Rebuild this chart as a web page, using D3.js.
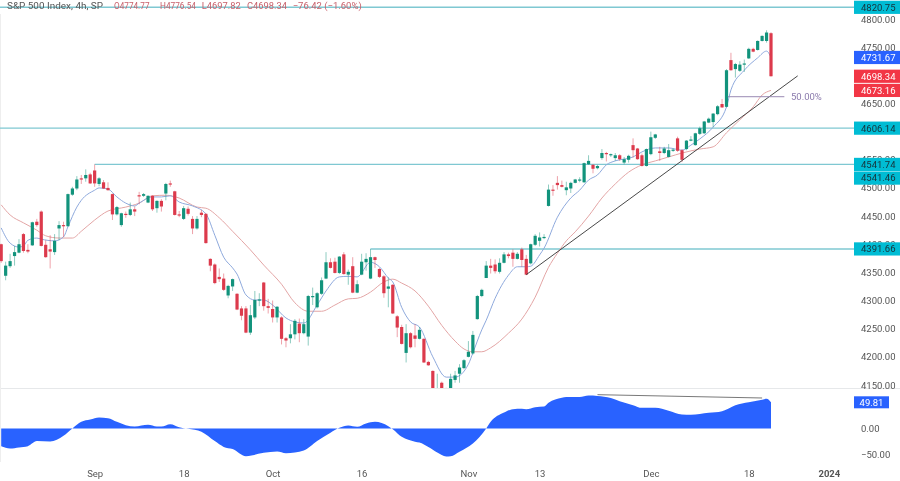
<!DOCTYPE html>
<html>
<head>
<meta charset="utf-8">
<style>
  html, body { margin: 0; padding: 0; background: #fff; }
  svg { display: block; font-family: Roboto, sans-serif; filter: blur(0.3px); }
  .domain { display: none; }
</style>
<script src="https://cdn.jsdelivr.net/npm/d3@7"></script>
</head>
<body>
<svg id="chart" width="900" height="481"></svg>
<script>
"use strict";

// bar by bar, 4h S&P 500
var opens = [
  4400,4344,4361,4379,4385,4418,4390,4398,4440,4458,
  4399,4391,4386,4428,4434,4432,4488,4499,4517,4517,
  4524,4531,4507,4510,4500,4489,4453,4434,4454,4452,
  4462,4487,4486,4474,4486,4464,4477,4490,4508,4494,
  4453,4445,4463,4445,4428,4456,4454,4374,4364,4342,
  4339,4309,4325,4312,4286,4286,4243,4270,4300,4332,
  4290,4285,4270,4270,4233,4233,4240,4259,4242,4236,
  4307,4288,4312,4339,4368,4369,4349,4382,4346,4361,
  4314,4346,4368,4339,4377,4356,4343,4321,4328,4272,
  4253,4207,4242,4238,4232,4232,4191,4175,4130,4154,
  4135,4130,4159,4170,4180,4200,4206,4267,4308,4340,
  4362,4364,4351,4367,4382,4385,4374,4391,4374,4366,
  4399,4406,4412,4468,4497,4509,4505,4496,4499,4509,
  4513,4510,4542,4541,4535,4553,4562,4558,4553,4558,
  4545,4550,4576,4570,4558,4539,4560,4589,4565,4562,
  4555,4566,4588,4567,4569,4584,4576,4596,4597,4616,
  4617,4631,4649,4644,4727,4711,4708,4720,4730,4747,
  4745,4761,4761,4774.77
];
var highs = [
  4401,4369,4383,4397,4409,4420,4400,4440,4445,4460,
  4407,4416,4418,4441,4440,4490,4502,4521,4523,4533,
  4527,4541.74,4519,4514,4510,4490,4468,4456,4458,4474,
  4467,4493,4491,4487,4487,4478,4480,4509,4513,4495,
  4459,4468,4467,4450,4450,4461,4455,4375,4366,4357,
  4348,4328,4339,4313,4290,4290,4292,4317,4313,4333,
  4303,4300,4290,4272,4235,4258,4267,4268,4267,4310,
  4323,4315,4341,4386,4375,4376,4379,4386,4355,4377,
  4336,4383,4384,4391.66,4378,4358,4345,4341,4329,4274,
  4257,4258,4244,4258,4253,4233,4193,4176,4170,4156,
  4145,4170,4175,4187,4196,4228,4246,4310,4321,4370,
  4374,4373,4375,4386,4385,4391,4386,4394,4381,4401,
  4418,4421,4418,4506,4505,4521,4513,4511,4511,4516,
  4519,4545,4558,4542,4541,4569,4564,4561,4562,4560,
  4555,4559,4588,4571,4561,4570,4600,4596,4573,4573,
  4578,4570,4591,4569,4585,4592,4598,4609,4619,4625,
  4633,4647,4658,4711,4740,4722,4725,4728,4749,4749,
  4762,4771,4780,4776.54
];
var lows = [
  4367,4336,4358,4362,4384,4385,4384,4397,4431,4396,
  4376,4357,4381,4407,4413,4431,4486,4496,4507,4511,
  4507,4502,4503,4498,4495,4443,4451,4431,4447,4450,
  4450,4471,4484,4473,4459,4456,4458,4478,4502,4451,
  4448,4443,4451,4418,4426,4448,4401,4352,4329,4333,
  4317,4304,4317,4283,4265,4242,4239,4267,4290,4282,
  4277,4261,4261,4222,4217,4224,4231,4226,4240,4220,
  4292,4286,4310,4338,4357,4348,4347,4346,4328,4313,
  4313,4345,4353,4338,4358,4340,4305,4288,4276,4235,
  4222,4190,4215,4217,4231,4189,4184,4130,4125,4130,
  4128,4127,4154,4154,4178,4199,4204,4266,4306,4340,
  4348,4348,4348,4366,4375,4360,4373,4360,4345,4364,
  4397,4396,4409,4467,4486,4497,4501,4487,4491,4508,
  4510,4509,4541,4526,4533,4550,4547,4555,4548,4548,
  4542,4545,4554,4550,4538,4538,4558,4587,4548,4560,
  4554,4564,4564,4546,4567,4583,4575,4594,4596,4615,
  4608,4629,4642,4643,4708,4696,4706,4706,4729,4741,
  4744,4760,4758,4697.82
];
var closes = [
  4370,4362,4370,4386,4400,4388,4387,4439,4434,4397,
  4377,4387,4406,4434,4432,4489,4499,4515,4515,4523,
  4508,4508,4517,4499,4496,4453,4466,4455,4452,4462,
  4458,4486,4489,4486,4462,4477,4467,4507,4507,4452,
  4452,4464,4454,4428,4445,4452,4402,4362,4331,4338,
  4319,4326,4338,4284,4273,4243,4274,4301,4302,4290,
  4287,4270,4289,4232,4229,4240,4264,4242,4258,4308,
  4308,4313,4336,4368,4358,4349,4378,4347,4351,4314,
  4329,4369,4374,4377,4372,4342,4313,4325,4277,4252,
  4223,4242,4217,4232,4248,4190,4185,4135,4140,4135,
  4140,4161,4167,4181,4194,4209,4239,4308,4319,4362,
  4358,4352,4367,4382,4379,4374,4383,4372,4346,4400,
  4415,4412,4413,4497,4495,4505,4502,4501,4509,4515,
  4515,4544,4548,4534,4539,4562,4560,4560,4558,4551,
  4551,4557,4567,4551,4539,4569,4590,4595,4562,4570,
  4567,4568,4566,4550,4584,4586,4597,4606,4618,4623,
  4632,4645,4643,4709,4709,4720,4719,4721,4747,4742,
  4761,4770,4776,4698.34
];

// moving averages, read at the bars where the line could be followed
var fastBars = [0,2,4,5,6,8,9,12,14,15,17,18,21,22,24,26,28,30,31,34,36,38,40,43,46,48,50,52,53,55,57,59,61,64,66,68,71,73,76,78,80,83,85,87,88,90,92,94,97,100,102,105,106,108,109,111,114,116,118,119,121,122,125,128,130,132,134,136,138,142,144,147,150,153,155,157,160,163,164,167,170,172,173];
var fastVals = [4429,4402,4395,4397,4407,4411,4409,4406,4413,4431,4466,4478,4496,4500,4498,4484,4473,4468,4473,4484,4484,4486,4475,4468,4454,4416,4377,4358,4347,4310,4301,4301,4292,4269,4262,4260,4292,4317,4342,4343,4342,4368,4360,4340,4333,4288,4262,4253,4200,4164,4164,4187,4207,4248,4265,4304,4345,4360,4360,4361,4381,4393,4448,4482,4496,4514,4523,4541,4548,4555,4564,4571,4571,4567,4576,4587,4608,4644,4674,4709,4731,4743,4731.67];
var slowBars = [0,2,5,8,10,13,16,18,21,24,28,31,34,37,40,44,46,49,52,56,59,63,66,69,72,75,78,80,83,86,88,90,93,96,99,102,104,106,108,110,114,117,120,123,125,127,129,132,135,138,141,144,147,150,153,157,160,163,166,169,171,173];
var slowVals = [4470,4452,4438,4425,4415,4411,4411,4423,4443,4459,4466,4473,4486,4487,4482,4466,4464,4447,4423,4390,4363,4329,4296,4281,4281,4292,4303,4304,4315,4333,4338,4331,4317,4290,4256,4228,4214,4209,4209,4216,4242,4267,4306,4359,4384,4406,4422,4450,4482,4507,4528,4541,4548,4555,4562,4569,4573,4598,4621,4644,4665,4673.16];

// lower pane oscillator
var oscBars = [0,2,4,6,8,11,14,16,18,20,22,24,26,28,30,33,35,36,38,40,42,45,48,50,52,55,59,62,64,68,71,74,76,78,80,82,84,87,88,90,93,94,96,98,100,101,103,106,109,110,113,115,117,118,120,122,123,126,127,130,132,134,137,139,142,144,147,150,153,155,159,162,165,168,171,172,173];
var oscVals = [-33.6,-38,-36,-33.6,-24,-24.7,-14,0,12.7,17,21,19.7,12.7,6.3,3.8,7,3.8,3.8,8.2,2.5,-0.6,-6.3,-24,-35,-39,-52.6,-46,-43.7,-47,-41.8,-24,-8,1.3,5.7,3.2,9.5,12.7,4.4,-1.3,-15.9,-25,-26.6,-35,-45.6,-53,-52.6,-44,-28.5,0,12.7,30.4,36.8,37.4,36.8,40.6,41.8,48.8,58.3,60,60,62.8,62,58,52,44.4,39.3,39.3,33.6,26.6,26,29.8,33,44.4,50,54.5,56.4,49.81];

var priceTicks = [4150,4200,4250,4300,4350,4400,4450,4500,4550,4650,4750,4800];
var oscTicks = [0,-50];
var dateBars = [21,41,61,81,105,121,146,168,186];
var dateLabels = ["Sep","18","Oct","16","Nov","13","Dec","18","2024"];

// price levels: value, first bar of the line (null = whole width), label
var levelVals = [4820.75,4606.14,4541.74,4391.66];
var levelFrom = [null,null,21,83];
var tagVals = [4820.75,4606.14,4541.74,4541.46,4391.66];
var tagOffset = [0,0,0,13.5,0];
var lastTags = [4731.67,4698.34,4673.16];
var lastTagColors = ["#2962ff","#f23645","#f23645"];

var trendBars = [118,179];
var trendVals = [4346,4699];
var fibBars = [163.3,176];
var fibVal = 4662;
var oscLineBars = [134,171];
var oscLineVals = [64.3,58];

var titleTexts = ["S&P 500 Index, 4h, SP","O4774.77","H4776.54","L4697.82","C4698.34","\u221276.42 (\u22121.60%)"];
var titleX = [7,114,160,201.7,247,292.7];
var titleW = [96,35.5,36,39,40,69];

var svg = d3.select( "#chart" );
var axisX = 854;
var x = d3.scaleLinear().domain( [ 0, 173 ] ).range( [ 1.2, 771 ] );
var y = d3.scaleLinear().domain( [ 4150, 4800 ] ).range( [ 385, 19 ] );
var yOsc = d3.scaleLinear().domain( [ -50, 50 ] ).range( [ 454.8, 402.2 ] );

var UP = "#12937c", DOWN = "#dc3a4c", LEVEL = "#7fc8d2", TAG = "#00bcd4";

svg.append( "clipPath" ).attr( "id", "pane" )
   .append( "rect" ).attr( "x", 0 ).attr( "y", 0 ).attr( "width", axisX ).attr( "height", 388 );

// pane borders
svg.append( "line" ).attr( "x1", 0 ).attr( "x2", 900 ).attr( "y1", 388.5 ).attr( "y2", 388.5 )
   .attr( "stroke", "#e6e8ea" ).attr( "stroke-width", 1 );
svg.append( "line" ).attr( "x1", 0.5 ).attr( "x2", 0.5 ).attr( "y1", 14 ).attr( "y2", 462 )
   .attr( "stroke", "#eeeeee" ).attr( "stroke-width", 1 );

var plot = svg.append( "g" ).attr( "clip-path", "url(#pane)" );

// horizontal levels
plot.selectAll( "line.level" ).data( levelVals ).enter().append( "line" )
    .attr( "class", "level" )
    .attr( "x1", function( d, i ) { return levelFrom[i] === null ? 0 : x( levelFrom[i] ); } )
    .attr( "x2", axisX )
    .attr( "y1", function( d ) { return y( d ); } )
    .attr( "y2", function( d ) { return y( d ); } )
    .attr( "stroke", LEVEL ).attr( "stroke-width", 1.4 );

// moving averages
function maLine( bars, vals, color ) {
  var line = d3.line()
               .x( function( d ) { return x( d ); } )
               .y( function( d, i ) { return y( vals[i] ); } )
               .curve( d3.curveMonotoneX );
  plot.append( "path" ).attr( "d", line( bars ) )
      .attr( "fill", "none" ).attr( "stroke", color ).attr( "stroke-width", 1 );
}
maLine( slowBars, slowVals, "#e3a5a5" );
maLine( fastBars, fastVals, "#8ea9dc" );

// candles
var candles = plot.selectAll( "g.candle" ).data( d3.range( opens.length ) ).enter().append( "g" )
                  .attr( "class", "candle" );
function candleColor( i ) {
  return closes[i] >= opens[i] ? UP : DOWN;
}
candles.append( "line" )
       .attr( "x1", function( i ) { return x( i ); } )
       .attr( "x2", function( i ) { return x( i ); } )
       .attr( "y1", function( i ) { return y( highs[i] ); } )
       .attr( "y2", function( i ) { return y( lows[i] ); } )
       .attr( "stroke", candleColor ).attr( "stroke-width", 0.8 ).attr( "stroke-opacity", 0.6 );
candles.append( "rect" )
       .attr( "x", function( i ) { return x( i ) - 1.6; } )
       .attr( "width", 3.2 )
       .attr( "y", function( i ) { return y( Math.max( opens[i], closes[i] ) ); } )
       .attr( "height", function( i ) { return Math.max( 1.2, Math.abs( y( opens[i] ) - y( closes[i] ) ) ); } )
       .attr( "fill", candleColor );

// trend line
plot.append( "line" )
    .attr( "x1", x( trendBars[0] ) ).attr( "y1", y( trendVals[0] ) )
    .attr( "x2", x( trendBars[1] ) ).attr( "y2", y( trendVals[1] ) )
    .attr( "stroke", "#333" ).attr( "stroke-width", 0.9 );

// 50% retracement
plot.append( "line" )
    .attr( "x1", x( fibBars[0] ) ).attr( "y1", y( fibVal ) )
    .attr( "x2", x( fibBars[1] ) ).attr( "y2", y( fibVal ) )
    .attr( "stroke", "#9a8ab3" ).attr( "stroke-width", 1 );
svg.append( "text" ).attr( "x", 791 ).attr( "y", y( fibVal ) + 3.4 )
   .attr( "font-size", 9.5 ).attr( "fill", "#8b7bad" ).text( "50.00%" );

// oscillator
var oscArea = d3.area()
                .x( function( d ) { return x( d ); } )
                .y0( yOsc( 0 ) )
                .y1( function( d, i ) { return yOsc( oscVals[i] ); } )
                .curve( d3.curveMonotoneX );
svg.append( "path" ).attr( "d", oscArea( oscBars ) ).attr( "fill", "#2962ff" );
svg.append( "line" )
   .attr( "x1", x( oscLineBars[0] ) ).attr( "y1", yOsc( oscLineVals[0] ) )
   .attr( "x2", x( oscLineBars[1] ) ).attr( "y2", yOsc( oscLineVals[1] ) )
   .attr( "stroke", "#555" ).attr( "stroke-width", 0.8 );

// axes
function styleAxis( g ) {
  g.selectAll( "text" ).attr( "font-size", 9.5 ).attr( "fill", "#555" ).attr( "font-family", "Roboto, sans-serif" );
}
svg.append( "g" ).attr( "transform", "translate(861,0)" )
   .call( d3.axisRight( y ).tickValues( priceTicks ).tickSize( 0 ).tickPadding( 0 ).tickFormat( d3.format( ".2f" ) ) )
   .call( styleAxis );
svg.append( "g" ).attr( "transform", "translate(861,0)" )
   .call( d3.axisRight( yOsc ).tickValues( oscTicks ).tickSize( 0 ).tickPadding( 0 )
            .tickFormat( function( d ) { return d3.format( ".2f" )( d ).replace( "-", "\u2212" ); } ) )
   .call( styleAxis );
var dateAxis = svg.append( "g" ).attr( "transform", "translate(0,470)" )
   .call( d3.axisBottom( x ).tickValues( dateBars ).tickSize( 0 ).tickPadding( 0 )
            .tickFormat( function( d, i ) { return dateLabels[i]; } ) )
   .call( styleAxis );
dateAxis.selectAll( "text" ).attr( "font-weight", function( d ) { return d === 186 ? "bold" : null; } );

// price tags
function priceTag( val, offset, fill, textFill ) {
  var yy = y( val ) + offset;
  svg.append( "rect" ).attr( "x", axisX ).attr( "y", yy - 6.6 ).attr( "width", 46 ).attr( "height", 13.2 ).attr( "fill", fill );
  svg.append( "text" ).attr( "x", 861 ).attr( "y", yy + 3.4 ).attr( "font-size", 9.5 )
     .attr( "fill", textFill ).text( d3.format( ".2f" )( val ) );
}
tagVals.forEach( function( d, i ) { priceTag( d, tagOffset[i], TAG, "#16323a" ); } );
lastTags.forEach( function( d, i ) { priceTag( d, 0, lastTagColors[i], "#fff" ); } );

// oscillator value tag
svg.append( "rect" ).attr( "x", axisX ).attr( "y", yOsc( 49.81 ) - 6 ).attr( "width", 35 ).attr( "height", 12 ).attr( "fill", "#2962ff" );
svg.append( "text" ).attr( "x", axisX + 17.5 ).attr( "y", yOsc( 49.81 ) + 3.4 ).attr( "text-anchor", "middle" )
   .attr( "font-size", 9.5 ).attr( "fill", "#fff" ).text( "49.81" );

// legend row
svg.selectAll( "text.legend" ).data( titleTexts ).enter().append( "text" )
   .attr( "class", "legend" )
   .attr( "x", function( d, i ) { return titleX[i]; } )
   .attr( "y", 9 )
   .attr( "font-size", 9.5 )
   .attr( "textLength", function( d, i ) { return titleW[i]; } )
   .attr( "lengthAdjust", "spacingAndGlyphs" )
   .attr( "fill", function( d, i ) { return i === 0 ? "#555" : "#c8606b"; } )
   .text( function( d ) { return d; } );
</script>
</body>
</html>
